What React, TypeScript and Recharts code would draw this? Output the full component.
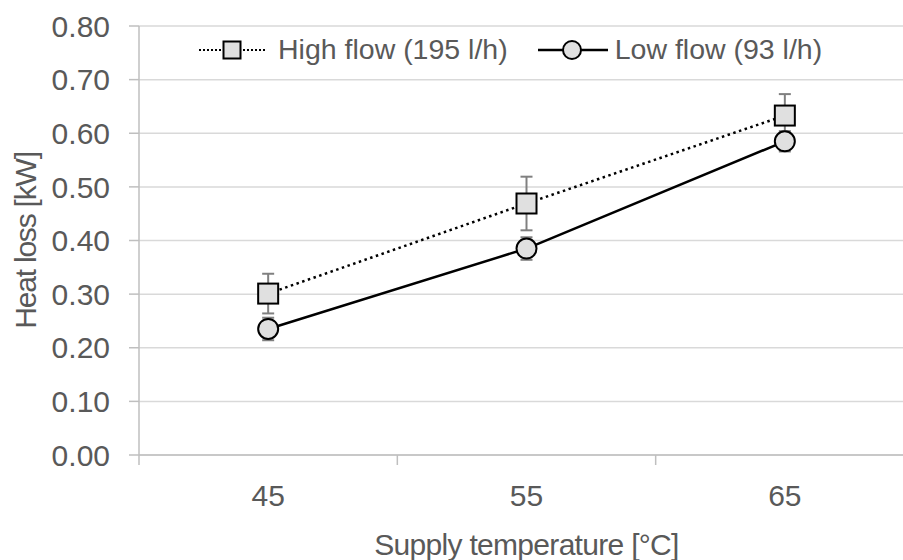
import React from 'react';
import { LineChart, Line, XAxis, YAxis, CartesianGrid, ErrorBar, Legend, Label } from 'recharts';

const temperatures = [45, 55, 65];
const highFlow = [0.301, 0.469, 0.633];
const highFlowErr = [0.037, 0.05, 0.04];
const lowFlow = [0.235, 0.385, 0.585];
const lowFlowErr = [0.021, 0.021, 0.019];
const yTicks = [0, 0.1, 0.2, 0.3, 0.4, 0.5, 0.6, 0.7, 0.8];
const xBoundaryTicks = [40, 50, 60, 70];
const xLabelTicks = [45, 55, 65];
const seriesNames = ['High flow (195 l/h)', 'Low flow (93 l/h)'];
const xTitle = 'Supply temperature [°C]';
const yTitle = 'Heat loss [kW]';

const data = temperatures.map((t, i) => ({
  temp: t,
  high: highFlow[i],
  highErr: highFlowErr[i],
  low: lowFlow[i],
  lowErr: lowFlowErr[i],
}));

const TEXT = '#595959';
const AXIS = '#bfbfbf';
const GRID = '#d9d9d9';
const FILL = '#e0e0e0';
const FONT = '"Liberation Sans", Arial, sans-serif';

const XTick = (props: any) => {
  const { x, y, payload } = props;
  const v = payload.value;
  if (xBoundaryTicks.includes(v)) {
    return <line x1={x} x2={x} y1={y - 30} y2={y - 20} stroke={AXIS} strokeWidth={1.5} />;
  }
  if (xLabelTicks.includes(v)) {
    return (
      <text x={x} y={y} dy={21} textAnchor="middle" fill={TEXT} fontSize={30} fontFamily={FONT}>
        {v}
      </text>
    );
  }
  return <g />;
};

const SquareDot = (props: any) => {
  const { cx, cy } = props;
  if (cx == null || cy == null) return <g />;
  return <rect x={cx - 10} y={cy - 10} width={20} height={20} fill={FILL} stroke="#000" strokeWidth={2} />;
};

const renderLegend = () => (
  <div style={{ display: 'flex', alignItems: 'center', fontFamily: FONT, fontSize: 28.5, color: TEXT, whiteSpace: 'nowrap' }}>
    <svg width={66} height={24} style={{ display: 'block' }}>
      <line x1={0} x2={66} y1={12} y2={12} stroke="#000" strokeWidth={2} strokeDasharray="2 2" />
      <rect x={24.5} y={3.5} width={17} height={17} fill={FILL} stroke="#000" strokeWidth={2} />
    </svg>
    <span style={{ marginLeft: 13 }}>{seriesNames[0]}</span>
    <svg width={70} height={24} style={{ display: 'block', marginLeft: 30 }}>
      <line x1={0} x2={70} y1={12} y2={12} stroke="#000" strokeWidth={2.5} />
      <circle cx={34} cy={12} r={9} fill={FILL} stroke="#000" strokeWidth={2} />
    </svg>
    <span style={{ marginLeft: 7 }}>{seriesNames[1]}</span>
  </div>
);

export default function App() {
  return (
    <div style={{ position: 'absolute', left: 0, top: 0, width: 903, height: 560, overflow: 'hidden', background: '#fff', fontFamily: FONT }}>
      <LineChart width={930} height={560} data={data} margin={{ top: 26, right: 16, bottom: 0, left: 0 }}>
        <CartesianGrid vertical={false} stroke={GRID} strokeWidth={1.5} />
        <XAxis
          dataKey="temp"
          type="number"
          domain={[40, 70]}
          ticks={[40, 45, 50, 55, 60, 65, 70]}
          interval={0}
          height={105}
          tickSize={10}
          tickMargin={20}
          tickLine={false}
          axisLine={{ stroke: AXIS, strokeWidth: 1.5 }}
          tick={<XTick />}
        >
          <Label
            content={(p: any) => {
              const vb = p.viewBox || { x: 139, y: 455, width: 775 };
              return (
                <text x={vb.x + vb.width / 2} y={vb.y + 100} textAnchor="middle" fill={TEXT} fontSize={30} letterSpacing={-0.7} fontFamily={FONT}>
                  {xTitle}
                </text>
              );
            }}
          />
        </XAxis>
        <YAxis
          type="number"
          domain={[0, 0.8]}
          ticks={yTicks}
          interval={0}
          width={139}
          tickSize={10}
          tickMargin={19}
          tickLine={{ stroke: AXIS, strokeWidth: 1.5 }}
          axisLine={{ stroke: AXIS, strokeWidth: 1.5 }}
          tick={{ fill: TEXT, fontSize: 30, fontFamily: FONT }}
          tickFormatter={(v: number) => v.toFixed(2)}
        >
          <Label
            content={(p: any) => {
              const vb = p.viewBox || { x: 0, y: 26, height: 429 };
              const cx = vb.x + 25;
              const cy = vb.y + vb.height / 2;
              return (
                <text transform={`translate(${cx},${cy}) rotate(-90)`} dy="0.355em" textAnchor="middle" fill={TEXT} fontSize={30} letterSpacing={-1.2} fontFamily={FONT}>
                  {yTitle}
                </text>
              );
            }}
          />
        </YAxis>
        <Legend
          verticalAlign="middle"
          align="center"
          content={renderLegend}
          wrapperStyle={{ position: 'absolute', top: 33, left: 199, width: 'auto', height: 'auto' }}
        />
        <Line
          dataKey="high"
          name={seriesNames[0]}
          stroke="#000"
          strokeWidth={2.5}
          strokeDasharray="2.5 3.5"
          dot={<SquareDot />}
          activeDot={false}
          isAnimationActive={false}
        >
          <ErrorBar dataKey="highErr" width={6} stroke="#808080" strokeWidth={2} direction="y" isAnimationActive={false} />
        </Line>
        <Line
          dataKey="low"
          name={seriesNames[1]}
          stroke="#000"
          strokeWidth={2.5}
          dot={{ r: 10, fill: FILL, stroke: '#000', strokeWidth: 2 }}
          activeDot={false}
          isAnimationActive={false}
        >
          <ErrorBar dataKey="lowErr" width={6} stroke="#808080" strokeWidth={2} direction="y" isAnimationActive={false} />
        </Line>
      </LineChart>
    </div>
  );
}
